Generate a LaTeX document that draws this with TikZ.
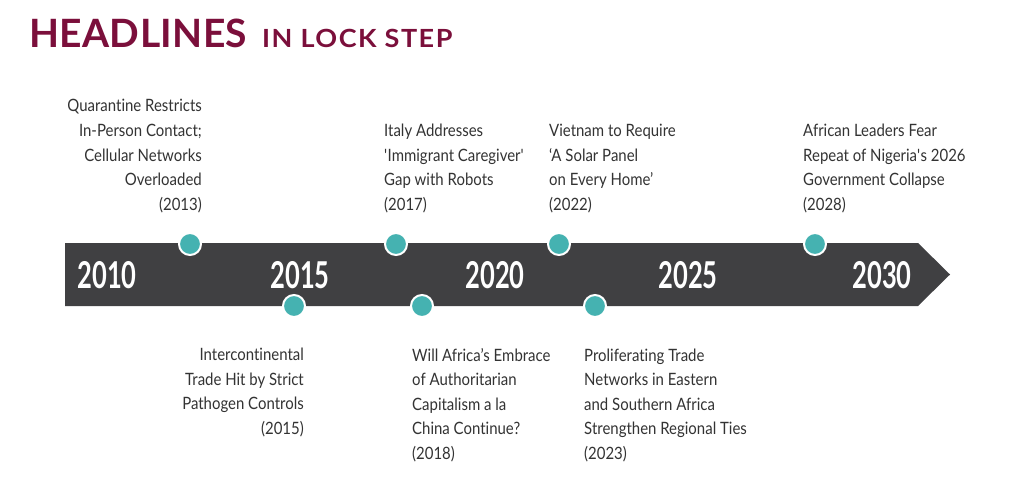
\documentclass[tikz,border=0pt]{standalone}
\usepackage{fontspec}
\setmainfont{Lato}
\newfontfamily\bodyfont[FakeStretch=0.88,Ligatures={NoCommon,TeX}]{Lato}
\newfontfamily\yearfont[FakeStretch=0.69]{Lato Bold}
\newfontfamily\titlefont[FakeStretch=1.0,LetterSpace=1]{Lato Bold}
\newfontfamily\subtitlefont[FakeStretch=1.08,LetterSpace=6]{Lato Bold}
\definecolor{maroon}{HTML}{7B0F3B}
\definecolor{band}{HTML}{404042}
\definecolor{teal}{HTML}{45B2B1}
\definecolor{ink}{HTML}{333333}
\tikzset{
  x=1pt,y=-1pt,
  dot/.style={circle,fill=teal,draw=white,line width=2pt,minimum size=22pt,inner sep=0pt},
  year/.style={text=white,font=\yearfont\fontsize{37}{37}\selectfont,inner sep=0pt,anchor=center},
  headR/.style={text=ink,font=\bodyfont\fontsize{17}{24.5}\selectfont,align=right,inner sep=0pt,anchor=base east},
  headL/.style={text=ink,font=\bodyfont\fontsize{17}{24.5}\selectfont,align=left,inner sep=0pt,anchor=base west},
}
\begin{document}
\begin{tikzpicture}
\useasboundingbox[fill=white] (0,0) rectangle (1024,497);
% title
\node[anchor=base west,inner sep=0pt,text=maroon,font=\titlefont\fontsize{39}{39}\selectfont] (title) at (29,48) {HEADLINES};
\node[anchor=base west,inner sep=0pt,text=maroon,font=\subtitlefont\fontsize{25}{25}\selectfont] (subtitle) at (262,48) {IN LOCK STEP};
% band
\path[fill=band] (65,243) -- (918,243) -- (950,274.5) -- (918,306) -- (65,306) -- cycle;
\node[year] (y2010) at (107,275) {2010};
\node[year] (y2015) at (300,275) {2015};
\node[year] (y2020) at (495,275) {2020};
\node[year] (y2025) at (688,275) {2025};
\node[year] (y2030) at (882,275) {2030};
% dots
\node[dot] (d2013) at (190,244) {};
\node[dot] (d2015) at (294,306) {};
\node[dot] (d2017) at (396,244) {};
\node[dot] (d2018) at (422,306) {};
\node[dot] (d2022) at (559,244) {};
\node[dot] (d2023) at (595,306) {};
\node[dot] (d2028) at (815,244) {};
% headlines (anchor = baseline of last line)
\node[headR] (h2013) at (202,210) {Quarantine Restricts\\In-Person Contact;\\Cellular Networks\\Overloaded\\(2013)};
\node[headL] (h2017) at (384,210) {Italy Addresses\\\textquotesingle Immigrant Caregiver\textquotesingle\\Gap with Robots\\(2017)};
\node[headL] (h2022) at (549,210) {Vietnam to Require\\‘A Solar Panel\\on Every Home’\\(2022)};
\node[headL] (h2028) at (803,210) {African Leaders Fear\\Repeat of Nigeria\textquotesingle s 2026\\Government Collapse\\(2028)};
\node[headR] (h2015) at (304,434) {Intercontinental\\Trade Hit by Strict\\Pathogen Controls\\(2015)};
\node[headL] (h2018) at (412,459) {Will Africa’s Embrace\\of Authoritarian\\Capitalism a la\\China Continue?\\(2018)};
\node[headL] (h2023) at (584,459) {Proliferating Trade\\Networks in Eastern\\and Southern Africa\\Strengthen Regional Ties\\(2023)};
\end{tikzpicture}
\end{document}
